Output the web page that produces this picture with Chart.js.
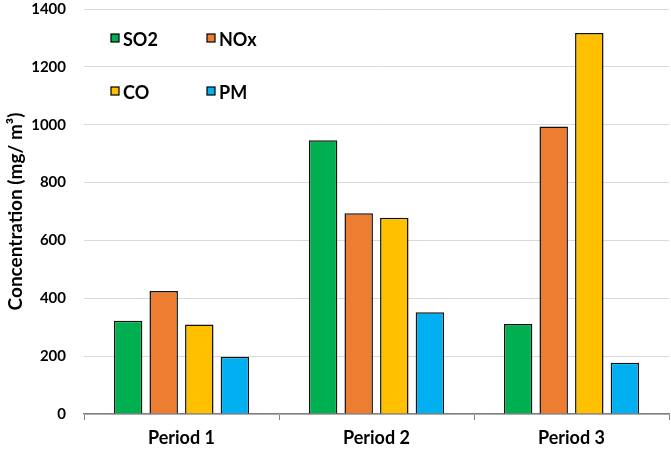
<!DOCTYPE html>
<html>
<head>
<meta charset="utf-8">
<script src="https://cdn.jsdelivr.net/npm/chart.js@4"></script>
<style>
  html, body { margin: 0; padding: 0; background: #fff; }
  #wrap { width: 671px; height: 450px; }
</style>
</head>
<body>
<div id="wrap"><canvas id="myChart" width="671" height="450"></canvas></div>
<script>
const periods = ['Period 1', 'Period 2', 'Period 3'];
const pollutants = ['SO2', 'NOx', 'CO', 'PM'];
const so2 = [322, 946, 311];
const nox = [425, 694, 994];
const co = [309, 678, 1317];
const pm = [198, 352, 177];
const colors = ['#00b050', '#ed7d31', '#ffc000', '#00b0f0'];

const FONT = 'Lato, "Open Sans", sans-serif';

// legend drawn inside the plot, two columns
const insideLegend = {
  id: 'insideLegend',
  afterDraw(chart) {
    const ctx = chart.ctx;
    const spots = [[111, 34], [207, 34], [111, 87], [207, 87]];
    ctx.save();
    ctx.font = 'bold 18px ' + FONT;
    ctx.textBaseline = 'middle';
    chart.data.datasets.forEach((ds, i) => {
      const [x, y] = spots[i];
      ctx.fillStyle = ds.backgroundColor;
      ctx.fillRect(x, y, 8, 8);
      ctx.strokeStyle = '#000';
      ctx.lineWidth = 1.2;
      ctx.strokeRect(x, y, 8, 8);
      ctx.fillStyle = '#000';
      ctx.fillText(ds.label, x + 12, y + 6);
    });
    ctx.restore();
  }
};

const seriesData = [so2, nox, co, pm];

new Chart(document.getElementById('myChart').getContext('2d'), {
  type: 'bar',
  data: {
    labels: periods,
    datasets: pollutants.map((p, i) => ({
      label: p,
      data: seriesData[i],
      backgroundColor: colors[i],
      borderColor: '#111',
      borderWidth: 1.5,
      categoryPercentage: 0.73,
      barPercentage: 0.8
    }))
  },
  options: {
    responsive: false,
    animation: false,
    layout: { padding: { top: 8, right: 2, left: 0, bottom: 0 } },
    plugins: {
      legend: { display: false },
      tooltip: { enabled: false }
    },
    scales: {
      x: {
        grid: {
          drawOnChartArea: false,
          drawTicks: true,
          tickLength: 6,
          color: '#808080',
          offset: true
        },
        border: { color: '#808080', width: 1.5 },
        ticks: {
          color: '#000',
          font: { family: FONT, size: 18, weight: 'bold' },
          padding: 7
        },
        afterFit(scale) { scale.height = 36; }
      },
      y: {
        min: 0,
        max: 1400,
        ticks: {
          stepSize: 200,
          color: '#000',
          font: { family: FONT, size: 15, weight: 'bold' },
          padding: 0,
          callback: (v) => String(v)
        },
        // invisible tick marks push the labels away from the plot
        grid: { color: '#d9d9d9', drawTicks: true, tickLength: 18, tickColor: 'rgba(0,0,0,0)', lineWidth: 1 },
        border: { display: false },
        title: {
          display: true,
          text: 'Concentration (mg/ m³)',
          color: '#000',
          font: { family: FONT, size: 19, weight: 'bold' },
          padding: { top: 4, bottom: 0 }
        },
        afterFit(scale) { scale.width = 84; }
      }
    }
  },
  plugins: [insideLegend]
});
</script>
</body>
</html>
